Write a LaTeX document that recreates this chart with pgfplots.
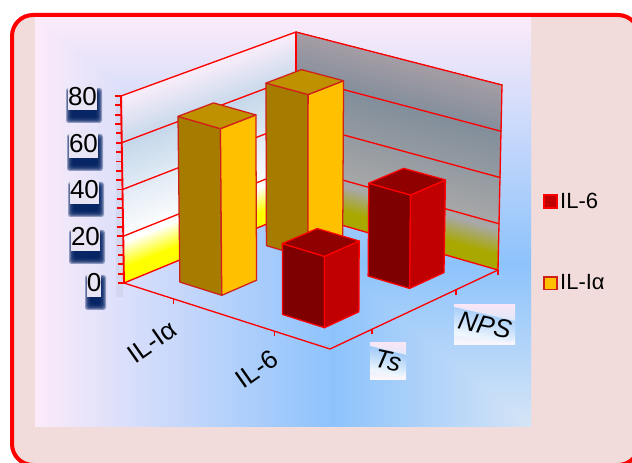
\documentclass[border=0pt]{standalone}
\usepackage{fontspec}
\setmainfont{Liberation Sans}
\usepackage{pgfplots}
\pgfplotsset{compat=1.18}

% panel and page colours
\definecolor{pageFill}{HTML}{F1DCDB}
\definecolor{panelPink}{HTML}{FCEBFA}
\definecolor{panelBlue}{HTML}{8DC3FC}
\definecolor{panelPale}{HTML}{D5E4F6}
% wall gradient stops
\definecolor{wallA}{HTML}{FFFF00}
\definecolor{wallB}{HTML}{FFFFFF}
\definecolor{wallC}{HTML}{C5D8EB}
\definecolor{wallD}{HTML}{FCEEFA}
\colorlet{wallAd}{wallA!66!black}
\colorlet{wallBd}{wallB!66!black}
\colorlet{wallCd}{wallC!66!black}
\colorlet{wallDd}{wallD!66!black}
% bar faces
\definecolor{goldR}{HTML}{FFC000}
\definecolor{goldL}{HTML}{A67C00}
\definecolor{goldT}{HTML}{BF9000}
\definecolor{goldE}{HTML}{D0201A}
\definecolor{redR}{HTML}{C00000}
\definecolor{redL}{HTML}{7F0000}
\definecolor{redT}{HTML}{900000}
\definecolor{navy}{HTML}{002060}
\definecolor{chipFill}{HTML}{E9E5F4}
\definecolor{chipBlue}{HTML}{8FC1F6}
\definecolor{chipTop}{HTML}{F8E6F6}

\pgfdeclarehorizontalshading{panelH}{100bp}{
  color(0bp)=(panelPink); color(25bp)=(panelPink); color(55bp)=(panelBlue);
  color(75bp)=(panelPale); color(100bp)=(panelPale)}
\pgfdeclareverticalshading{panelV}{100bp}{
  color(0bp)=(panelPale); color(25bp)=(panelPale); color(45bp)=(panelBlue);
  color(75bp)=(panelPink); color(100bp)=(panelPink)}
\pgfdeclareverticalshading{chipV}{100bp}{
  color(0bp)=(white); color(25bp)=(chipTop!35!white); color(50bp)=(chipBlue!35!white);
  color(75bp)=(chipTop); color(100bp)=(chipTop)}

\newcommand{\bigsize}{\fontsize{19.5}{22}\selectfont}
\newcommand{\catsize}{\fontsize{19.5}{22}\selectfont}

% half width of a bar in category units
\newcommand{\hw}{0.204}
\newcommand{\projx}{px(\thisrow{u},\thisrow{v},\thisrow{w})}
\newcommand{\projy}{py(\thisrow{u},\thisrow{v},\thisrow{w})}

% one polygon given as category, series and value columns
\newcommand{\poly}[2]{%
  \addplot[forget plot,#1] table[row sep=\\,x expr={\projx},y expr={\projy}]{u v w\\ #2} --cycle;}
% an open line given the same way
\newcommand{\oline}[2]{%
  \addplot[forget plot,#1] table[row sep=\\,x expr={\projx},y expr={\projy}]{u v w\\ #2};}

% a bar: centre u, centre v, value, left, right and top colour, edge colour
\newcommand{\barbox}[7]{%
  \pgfmathsetmacro{\ulo}{#1-\hw}\pgfmathsetmacro{\uhi}{#1+\hw}%
  \pgfmathsetmacro{\vlo}{#2-\hw}\pgfmathsetmacro{\vhi}{#2+\hw}%
  \edef\barfaces{%
    \noexpand\poly{fill=#4,draw=#7,line width=.95pt,line join=round}{\ulo\space\vlo\space 0\noexpand\\ \uhi\space\vlo\space 0\noexpand\\ \uhi\space\vlo\space #3\noexpand\\ \ulo\space\vlo\space #3\noexpand\\}%
    \noexpand\poly{fill=#5,draw=#7,line width=.95pt,line join=round}{\uhi\space\vlo\space 0\noexpand\\ \uhi\space\vhi\space 0\noexpand\\ \uhi\space\vhi\space #3\noexpand\\ \uhi\space\vlo\space #3\noexpand\\}%
    \noexpand\poly{fill=#6,draw=#7,line width=.95pt,line join=round}{\ulo\space\vlo\space #3\noexpand\\ \uhi\space\vlo\space #3\noexpand\\ \uhi\space\vhi\space #3\noexpand\\ \ulo\space\vhi\space #3\noexpand\\}%
  }\barfaces}

% graded band of a wall, painted bottom up with each strip reaching the wall top
\newcommand{\wallband}[8]{%
  \pgfplotsinvokeforeach{0,5,...,100}{%
    \addplot[forget plot,draw=none,fill={#8!##1!#7}] table[row sep=\\,
      x expr={px(\thisrow{u},\thisrow{v},\thisrow{f}*80+(1-\thisrow{f})*(#5+(#6-#5)*##1/100))},
      y expr={py(\thisrow{u},\thisrow{v},\thisrow{f}*80+(1-\thisrow{f})*(#5+(#6-#5)*##1/100))}]
      {u v f\\ #1 #2 0\\ #3 #4 0\\ #3 #4 1\\ #1 #2 1\\} --cycle;}}

% a value label on its pale chip with a soft navy shadow below it
\newcommand{\valuelabel}[6]{%
  \pgfplotsinvokeforeach{-3,-2,-1,0,1,2,3}{%
    \fill[navy,opacity=.38,rounded corners=2pt]
      ({#1+1-##1},{#3+5-##1}) rectangle ({#2+2+##1},{#4+10+##1});}
  \fill[chipFill] (#1,#3) rectangle (#2,#4);
  \node[anchor=base,font=\bigsize,inner sep=0pt] at ({(#1+#2)/2},#5) {#6};}

\begin{document}
\begin{tikzpicture}
\useasboundingbox (0,0) rectangle (474pt,347.25pt);
\begin{axis}[
  at={(0,0)},anchor=south west,
  scale only axis,width=474pt,height=347.25pt,
  xmin=0,xmax=632,ymin=0,ymax=463,y dir=reverse,
  hide axis,clip=false,
  declare function={
    bl(\ms,\mt,\ma,\mb,\mc,\md)=(1-\ms)*(1-\mt)*\ma+\ms*(1-\mt)*\mb+(1-\ms)*\mt*\mc+\ms*\mt*\md;
    px(\mu,\mv,\mw)=(1-\mw/80)*bl(\mu/2,\mv/2,124,330,296,498)+\mw/80*bl(\mu/2,\mv/2,121,330,296,502);
    py(\mu,\mv,\mw)=(1-\mw/80)*bl(\mu/2,\mv/2,283,349,212,270)+\mw/80*bl(\mu/2,\mv/2,96,157,32,85);
  },
  legend style={draw=none,fill=none,at={(543/632,1-190/463)},anchor=north west,
    font=\fontsize{16.5}{18}\selectfont,/tikz/row sep=44.25pt,inner sep=0pt,/tikz/every even column/.append style={column sep=4pt}},
  legend cell align=left,
]

% chart area and the graded panel on it
\fill[pageFill,rounded corners=15.75pt] (12,15) rectangle (639,465);
\shade[shading=panelH] (35,17) rectangle (531,426);
\shade[shading=panelV] (35,17) -- (531,17) -- (531,426) -- cycle;
\draw[red,line width=3pt,rounded corners=15.75pt] (12,15) rectangle (639,465);

% left wall
\wallband{0}{0}{0}{2}{0}{6}{wallA}{wallA}
\wallband{0}{0}{0}{2}{6}{17}{wallA}{wallB}
\wallband{0}{0}{0}{2}{17}{58}{wallB}{wallC}
\wallband{0}{0}{0}{2}{58}{80}{wallC}{wallD}
% right wall
\wallband{0}{2}{2}{2}{0}{6}{wallAd}{wallAd}
\wallband{0}{2}{2}{2}{6}{17}{wallAd}{wallBd}
\wallband{0}{2}{2}{2}{17}{58}{wallBd}{wallCd}
\wallband{0}{2}{2}{2}{58}{80}{wallCd}{wallDd}

% soft band behind the value ticks
\fill[gray,opacity=.09] (116,96) rectangle (123,297);

% gridlines and frame
\pgfplotsinvokeforeach{0,20,40,60,80}{%
  \oline{red,line width=1pt}{0 0 #1\\ 0 2 #1\\ 2 2 #1\\}}
\oline{red,line width=1.4pt}{0 0 0\\ 0 0 80\\}
\oline{red,line width=1pt}{0 2 0\\ 0 2 80\\}
\oline{red,line width=1pt}{2 2 0\\ 2 2 80\\}
\oline{red,line width=1pt}{0 0 0\\ 2 0 0\\ 2 2 0\\}

% value ticks
\pgfplotsinvokeforeach{0,4,...,80}{%
  \addplot[forget plot,red,line width=1.35pt] table[row sep=\\,x expr={\projx-\thisrow{d}},y expr={\projy}]
    {u v w d\\ 0 0 #1 0\\ 0 0 #1 6\\};}
% category and series ticks
\addplot[forget plot,red,line width=1pt] table[row sep=\\,x expr={\projx},y expr={\projy+\thisrow{d}}]{u v w d\\ 0.48 0 0 0\\ 0.48 0 0 5\\};
\addplot[forget plot,red,line width=1pt] table[row sep=\\,x expr={\projx},y expr={\projy+\thisrow{d}}]{u v w d\\ 1.46 0 0 0\\ 1.46 0 0 5\\};
\addplot[forget plot,red,line width=1pt] table[row sep=\\,x expr={\projx},y expr={\projy+\thisrow{d}}]{u v w d\\ 2 0.5 0 0\\ 2 0.5 0 5\\};
\addplot[forget plot,red,line width=1pt] table[row sep=\\,x expr={\projx},y expr={\projy+\thisrow{d}}]{u v w d\\ 2 1.5 0 0\\ 2 1.5 0 5\\};
\addplot[forget plot,red,line width=1pt] table[row sep=\\,x expr={\projx},y expr={\projy+\thisrow{d}}]{u v w d\\ 2 2 0 0\\ 2 2 0 5\\};

% bars, far ones first
\barbox{0.5}{1.51}{71}{goldL}{goldR}{goldT}{goldE}
\barbox{1.5}{1.51}{40}{redL}{redR}{redT}{red}
\barbox{0.5}{0.5}{71}{goldL}{goldR}{goldT}{goldE}
\barbox{1.5}{0.5}{30}{redL}{redR}{redT}{red}

% value labels
\valuelabel{68}{97}{86}{110}{106}{80}
\valuelabel{69}{98}{132}{158}{152.5}{60}
\valuelabel{70}{99}{180}{204}{199}{40}
\valuelabel{71}{100}{228}{251}{245.5}{20}
\valuelabel{87}{101}{273}{297}{292}{0}

% category labels
\node[rotate=35,font=\catsize,inner sep=0pt] at (152,342) {IL-Iα};
\node[rotate=35,font=\catsize,inner sep=0pt] at (257,369) {IL-6};

% series labels on their small graded chips
\shade[shading=chipV] (454,305) rectangle (515,345);
\shade[top color=chipBlue,bottom color=white,shading angle=-12]
  (454,307) -- (515,321) -- (515,338) -- (510,342) -- (454,335) -- cycle;
\node[rotate=-12,font=\catsize\itshape,inner sep=0pt] at (485,325) {NPS};
\shade[shading=chipV] (370,343) rectangle (406,379);
\shade[top color=chipBlue,bottom color=white,shading angle=-12]
  (370,346) -- (406,355) -- (406,372) -- (401,377) -- (370,371) -- cycle;
\node[rotate=-12,font=\catsize\itshape,inner sep=0pt] at (388,361) {Ts};

% legend
\addlegendimage{legend image code/.code={\draw[fill=redR,draw=red,line width=1.1pt] (0pt,-4.8pt) rectangle (9.6pt,4.8pt);}}
\addlegendentry{IL-6}
\addlegendimage{legend image code/.code={\draw[fill=goldR,draw=goldE,line width=1.1pt] (0pt,-4.8pt) rectangle (9.6pt,4.8pt);}}
\addlegendentry{IL-Iα}
\end{axis}
\end{tikzpicture}
\end{document}
